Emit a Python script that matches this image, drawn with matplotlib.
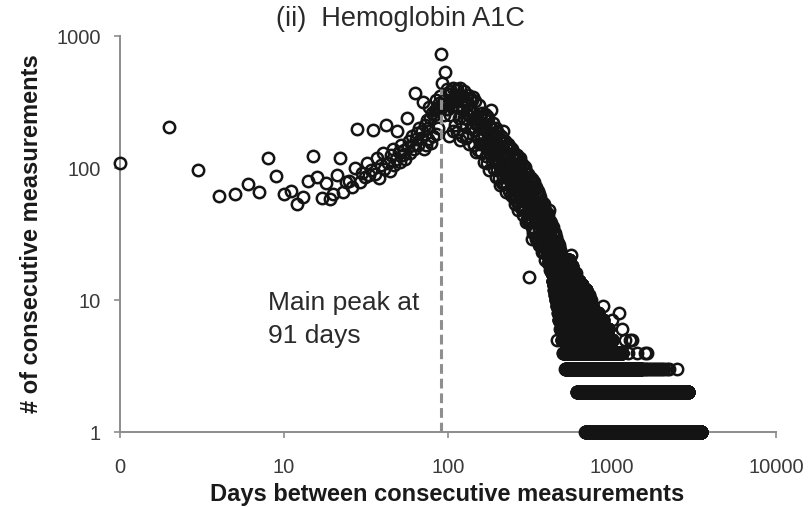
import numpy as np
import matplotlib
matplotlib.use("Agg")
import matplotlib.pyplot as plt
from matplotlib.ticker import NullLocator

plt.rcParams["font.family"] = ["Liberation Sans", "DejaVu Sans"]

# Number of consecutive-measurement pairs for each gap length, day by day (day 1 onward)
early_counts = [
    110, 204, 96, 61, 63, 76, 66, 120, 87, 64, 67, 53, 60, 80, 124, 85, 59, 77, 58, 63,
    88, 120, 66, 78, 80,
    72, 100, 198, 78, 92, 85, 110, 88, 96, 195, 90, 120, 84, 105, 130, 98, 213, 110, 95, 125,
    140, 105, 118, 190, 132, 112, 150, 125, 138, 118, 240, 145, 160, 130, 175, 150, 140, 370,
    165, 185, 150, 200, 170, 190, 315, 140, 210, 150, 230, 200, 165, 290, 240, 155, 260, 175,
    250, 275, 330, 180, 285, 200, 310, 280, 350,
    730,
]

band_counts = [
    440, 300, 250, 330, 535, 280, 400, 310,
    280, 175, 364, 252, 322, 380, 294, 406, 190, 336,
    212, 331, 390, 400, 186, 292, 239, 358, 164, 405,
    300, 220, 175, 275, 350, 238, 380, 312, 262, 170,
    235, 176, 305, 360, 270, 153, 247, 340, 200, 282,
    330, 269, 204, 344, 150, 236, 194, 320, 133, 215,
    234, 172, 137, 215, 300, 185, 152, 244, 205, 133,
    170, 260, 221, 153, 196, 111, 179, 247, 255, 204,
    124, 194, 147, 248, 109, 240, 140, 209, 96, 155,
    174, 128, 275, 160, 203, 138, 113, 181, 152, 220,
    130, 98, 169, 117, 150, 85, 200, 189, 111, 156,
    96, 150, 114, 185, 84, 132, 108, 162, 74, 120,
    175, 97, 77, 121, 154, 105, 86, 190, 116, 75,
    102, 77, 133, 92, 160, 66, 107, 148, 87, 122,
    76, 150, 90, 152, 67, 105, 86, 128, 145, 95,
    106, 77, 62, 97, 123, 140, 69, 110, 92, 60,
    82, 62, 130, 74, 94, 53, 86, 119, 70, 125,
    62, 98, 74, 125, 55, 86, 120, 105, 48, 78,
    89, 65, 52, 120, 104, 70, 58, 93, 78, 50,
    110, 51, 88, 61, 78, 44, 71, 105, 58, 82,
    50, 79, 60, 101, 98, 69, 57, 85, 39, 63,
    71, 92, 41, 65, 83, 56, 46, 74, 90, 40,
    15, 41, 72, 50, 63, 85, 58, 80, 47, 66,
    42, 65, 82, 83, 36, 29, 47, 70, 32, 80,
    59, 43, 34, 54, 69, 47, 78, 61, 51, 33,
    45, 34, 59, 72, 52, 29, 47, 65, 38, 54,
    65, 53, 40, 67, 29, 46, 38, 64, 26, 42,
    47, 34, 27, 43, 60, 37, 30, 49, 41, 27,
    36, 55, 47, 33, 41, 23, 38, 52, 54, 43,
    26, 41, 31, 53, 23, 50, 30, 45, 20, 33,
    37, 27, 48, 34, 43, 29, 24, 39, 33, 46,
    29, 22, 38, 26, 33, 19, 45, 42, 25, 35,
    22, 34, 26, 48, 19, 30, 24, 36, 17, 27,
    40, 21, 17, 26, 34, 23, 19, 38, 25, 16,
    22, 17, 29, 20, 36, 14, 23, 32, 19, 26,
    16, 33, 19, 32, 14, 22, 18, 27, 32, 20,
    22, 16, 13, 20, 26, 30, 14, 23, 19, 13,
    17, 13, 28, 15, 20, 5, 18, 25, 14, 27,
    12, 19, 15, 25, 11, 17, 26, 21, 10, 16,
    17, 13, 10, 24, 20, 14, 11, 18, 15, 10,
    22, 10, 17, 12, 15, 8, 14, 21, 11, 16,
]

# Long gaps: spans of days over which a given small count keeps recurring
span_count = [1, 2, 3, 4, 5, 6, 7, 8, 9, 10, 11, 12, 13, 14, 16, 18, 20]
span_first = [689, 612, 520, 505, 495, 485, 475, 470, 462, 455, 450, 445, 440, 435, 430, 425, 420]
span_last = [3490, 2905, 1500, 1150, 1000, 950, 880, 820, 760, 740, 720, 697, 660, 630, 600, 570, 550]

# Isolated long-gap days
extra_days = [560, 697, 728, 880, 1000, 1100, 1150, 1200, 1260, 1290, 1320, 1420,
              1540, 1580, 1600, 1620, 1640, 1660, 1700, 1750, 1800, 1850, 1900, 1960,
              2020, 2080, 2150, 2220, 2480]
extra_counts = [22, 12, 10, 9, 7, 8, 6, 5, 4, 5, 5, 4,
                3, 3, 4, 3, 4, 3, 3, 3, 3, 3, 3, 3,
                3, 3, 3, 3, 3]

x_ticks = [1, 10, 100, 1000, 10000]
x_tick_labels = ["0", "10", "100", "1000", "10000"]
y_ticks = [1, 10, 100, 1000]
y_tick_labels = ["1", "10", "100", "1000"]

title = "(ii)  Hemoglobin A1C"
x_label = "Days between consecutive measurements"
y_label = "# of consecutive measurements"

# ---- assemble points ----
daily = np.array(early_counts + band_counts, dtype=float)
daily_days = np.arange(1, len(daily) + 1)

span_days, span_vals = [], []
for c, a, b in zip(span_count, span_first, span_last):
    d = np.arange(a, b + 1)
    span_days.append(d)
    span_vals.append(np.full(d.shape, c, dtype=float))

all_days = np.concatenate([daily_days] + span_days + [np.array(extra_days)])
all_counts = np.concatenate([daily] + span_vals + [np.array(extra_counts, dtype=float)])

peak_day = int(daily_days[np.argmax(daily)])

# ---- figure ----
W, H = 812, 507
fig = plt.figure(figsize=(W / 100, H / 100), dpi=100)
fig.patch.set_facecolor("white")
ax = fig.add_axes([120 / W, 75 / H, 656 / W, 396 / H])
ax.set_xscale("log")
ax.set_yscale("log")
ax.set_xlim(1, 10000)
ax.set_ylim(1, 1000)

axis_gray = "#8c8c8c"
for side in ("top", "right"):
    ax.spines[side].set_visible(False)
for side in ("left", "bottom"):
    ax.spines[side].set_color(axis_gray)
    ax.spines[side].set_linewidth(1.4)

ax.plot(all_days, all_counts, ls="none", marker="o", ms=8.2,
        mfc="none", mec="#141414", mew=1.8, clip_on=False, zorder=3)

ax.plot([peak_day, peak_day], [1, 400], ls=(0, (3.2, 1.6)), color="#8f8f8f",
        lw=2.2, zorder=4, clip_on=False)

ax.set_xticks(x_ticks)
ax.set_xticklabels(x_tick_labels)
ax.set_yticks(y_ticks)
ax.set_yticklabels(y_tick_labels)
ax.xaxis.set_minor_locator(NullLocator())
ax.yaxis.set_minor_locator(NullLocator())
ax.tick_params(axis="x", direction="out", length=4, width=1.2, color=axis_gray,
               pad=15, labelsize=14.5, labelcolor="#3a3a3a")
ax.tick_params(axis="y", direction="out", length=4, width=1.2, color=axis_gray,
               pad=10, labelsize=14.5, labelcolor="#3a3a3a")

ax.text(0.2256, 0.309, "Main peak at", transform=ax.transAxes, fontsize=19,
        color="#2a2a2a", ha="left", va="baseline")
ax.text(0.2256, 0.224, f"{peak_day} days", transform=ax.transAxes, fontsize=19,
        color="#2a2a2a", ha="left", va="baseline")

fig.text(400 / W, 1 - 19 / H, title, ha="center", va="center", fontsize=19.5,
         color="#2a2a2a")
fig.text(447 / W, 1 - 494 / H, x_label, ha="center", va="center", fontsize=17,
         fontweight="bold", color="#1a1a1a")
fig.text(32 / W, 1 - 234 / H, y_label, ha="center", va="center", fontsize=17,
         fontweight="bold", color="#1a1a1a", rotation=90)

fig.savefig("out.png", dpi=100, facecolor="white")
